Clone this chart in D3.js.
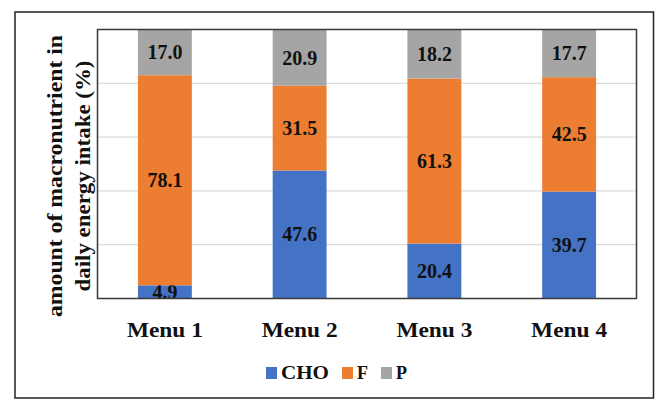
<!DOCTYPE html>
<html>
<head>
<meta charset="utf-8">
<script src="https://cdn.jsdelivr.net/npm/d3@7"></script>
<style>
html,body{margin:0;padding:0;background:#fff;}
svg{display:block;}
text{font-family:"Liberation Serif","Times New Roman",serif;font-weight:bold;fill:#111;}
</style>
</head>
<body>
<svg id="chart" width="665" height="411"></svg>
<script>
const categories = ["Menu 1", "Menu 2", "Menu 3", "Menu 4"];
const seriesNames = ["CHO", "F", "P"];
const choValues = [4.9, 47.6, 20.4, 39.7];
const fValues = [78.1, 31.5, 61.3, 42.5];
const pValues = [17.0, 20.9, 18.2, 17.7];
const yTicks = [0, 20, 40, 60, 80, 100];
const yTitleLines = ["amount of macronutrient in", "daily energy intake (%)"];
const colors = ["#4472C4", "#ED7D31", "#A5A5A5"];

const svg = d3.select("#chart");
const plot = {left: 97.5, right: 636.5, top: 29.5, bottom: 298.5};

// outer frame
svg.append("rect").attr("x", 15).attr("y", 12).attr("width", 638.5).attr("height", 386)
  .attr("fill", "#fff").attr("stroke", "#222").attr("stroke-width", 1.5);

const data = categories.map((c, i) => ({cat: c, CHO: choValues[i], F: fValues[i], P: pValues[i]}));
const stack = d3.stack().keys(seriesNames).offset(d3.stackOffsetExpand);
const stacked = stack(data);

const x = d3.scaleBand().domain(categories).range([plot.left, plot.right]).paddingInner(0.6).paddingOuter(0.3);
const y = d3.scaleLinear().domain([0, 1]).range([plot.bottom, plot.top]);

// gridlines
svg.append("g").selectAll("line").data(yTicks.slice(1, -1)).join("line")
  .attr("x1", plot.left).attr("x2", plot.right)
  .attr("y1", d => y(d / 100)).attr("y2", d => y(d / 100))
  .attr("stroke", "#DCDCDC").attr("stroke-width", 1.2);

// bars
const layers = svg.append("g").selectAll("g").data(stacked).join("g")
  .attr("fill", (d, i) => colors[i]);
layers.selectAll("rect").data(d => d.map(v => ({v, key: d.key}))).join("rect")
  .attr("x", d => x(d.v.data.cat))
  .attr("width", x.bandwidth())
  .attr("y", d => y(d.v[1]))
  .attr("height", d => y(d.v[0]) - y(d.v[1]));

// data labels
layers.selectAll("text").data(d => d.map(v => ({v, key: d.key}))).join("text")
  .attr("x", d => x(d.v.data.cat) + x.bandwidth() / 2)
  .attr("y", d => (y(d.v[0]) + y(d.v[1])) / 2)
  .attr("dy", "0.35em")
  .attr("text-anchor", "middle")
  .attr("font-size", 20)
  .attr("fill", "#111")
  .text(d => d.v.data[d.key].toFixed(1));

// plot border
svg.append("rect").attr("x", plot.left).attr("y", plot.top)
  .attr("width", plot.right - plot.left).attr("height", plot.bottom - plot.top)
  .attr("fill", "none").attr("stroke", "#3a3a3a").attr("stroke-width", 1.5);

// x axis labels
const xAxis = d3.axisBottom(x).tickSize(0).tickPadding(0);
const xg = svg.append("g").attr("transform", `translate(0,${plot.bottom})`).call(xAxis);
xg.select(".domain").remove();
xg.selectAll("text")
  .attr("y", 38).attr("dy", 0)
  .attr("font-size", 21)
  .attr("font-family", "Liberation Serif, serif")
  .attr("font-weight", "bold")
  .attr("fill", "#111")
  .attr("textLength", 76).attr("lengthAdjust", "spacingAndGlyphs");

// y title
const yt = svg.append("g").attr("transform", "translate(0,176) rotate(-90)");
yt.append("text").attr("x", 0).attr("y", 62).attr("text-anchor", "middle")
  .attr("font-size", 22).attr("textLength", 282).attr("lengthAdjust", "spacingAndGlyphs")
  .text(yTitleLines[0]);
yt.append("text").attr("x", 0).attr("y", 90).attr("text-anchor", "middle")
  .attr("font-size", 22).attr("textLength", 231).attr("lengthAdjust", "spacingAndGlyphs")
  .text(yTitleLines[1]);

// legend
const lg = svg.append("g").attr("transform", "translate(266,373)");
let cx = 0;
seriesNames.forEach((name, i) => {
  const g = lg.append("g").attr("transform", `translate(${cx},0)`);
  g.append("rect").attr("x", 0).attr("y", -6).attr("width", 11).attr("height", 12).attr("fill", colors[i]);
  const t = g.append("text").attr("x", 15).attr("y", 0).attr("dy", "0.35em").attr("font-size", 18).text(name);
  let w = t.node().getComputedTextLength();
  if (name.length > 1) { w = 48; t.attr("textLength", w).attr("lengthAdjust", "spacingAndGlyphs"); }
  cx += 15 + w + 13;
});
</script>
</body>
</html>
